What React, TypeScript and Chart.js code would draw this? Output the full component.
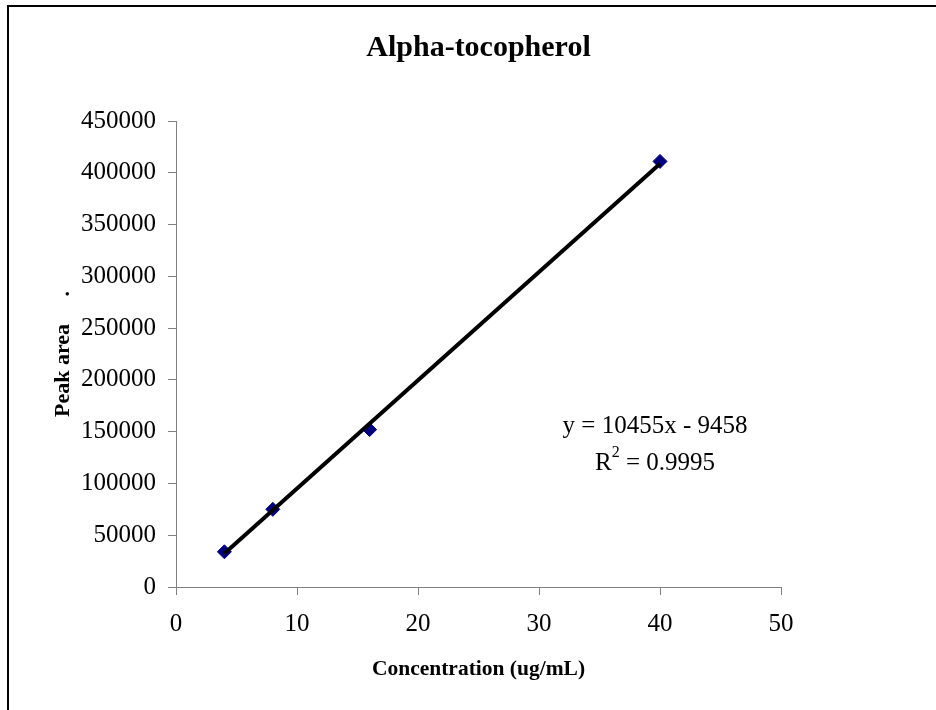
import React, { useEffect, useRef } from "react";
import { Chart, registerables } from "chart.js";

Chart.register(...registerables);

const concentrations = [4, 8, 16, 40];
const peakAreas = [34000, 75000, 152000, 411000];
const slope = 10455;
const intercept = -9458;
const rSquared = "0.9995";
const trendX = [4, 40];
const chartTitle = "Alpha-tocopherol";
const xTitle = "Concentration (ug/mL)";
const yTitle = "Peak area     .";

const FONT = "'Liberation Serif', 'Times New Roman', serif";

const decorPlugin = {
  id: "decor",
  afterDraw(chart: any) {
    const ctx = chart.ctx;
    const ca = chart.chartArea;
    ctx.save();
    ctx.strokeStyle = "#000";
    ctx.lineWidth = 2;
    ctx.strokeRect(8, 6, 2000, 2000);
    ctx.fillStyle = "#000";
    ctx.textAlign = "center";
    ctx.textBaseline = "middle";
    ctx.font = `bold 30px ${FONT}`;
    ctx.fillText(chartTitle, (ca.left + ca.right) / 2, 48);
    ctx.font = `bold 21.5px ${FONT}`;
    ctx.fillText(xTitle, (ca.left + ca.right) / 2, 669);
    ctx.save();
    ctx.translate(63, (ca.top + ca.bottom) / 2);
    ctx.rotate(-Math.PI / 2);
    ctx.font = `bold 22px ${FONT}`;
    ctx.fillText(yTitle, 0, 0);
    ctx.restore();
    const cx = ca.left + 479;
    ctx.font = `25px ${FONT}`;
    const sign = intercept < 0 ? " - " : " + ";
    ctx.fillText(`y = ${slope}x${sign}${Math.abs(intercept)}`, cx, 426);
    const p1 = "R";
    const p3 = ` = ${rSquared}`;
    const w1 = ctx.measureText(p1).width;
    const w3 = ctx.measureText(p3).width;
    ctx.font = `16px ${FONT}`;
    const w2 = ctx.measureText("2").width;
    const total = w1 + w2 + w3;
    const x0 = cx - total / 2;
    ctx.textAlign = "left";
    ctx.font = `25px ${FONT}`;
    ctx.fillText(p1, x0, 463);
    ctx.font = `16px ${FONT}`;
    ctx.fillText("2", x0 + w1, 453);
    ctx.font = `25px ${FONT}`;
    ctx.fillText(p3, x0 + w1 + w2, 463);
    ctx.restore();
  },
};

export default function App() {
  const ref = useRef<HTMLCanvasElement>(null);
  useEffect(() => {
    if (!ref.current) return;
    const scatter = concentrations.map((x, i) => ({ x, y: peakAreas[i] }));
    const trend = trendX.map((x) => ({ x, y: slope * x + intercept }));
    const chart = new Chart(ref.current, {
      type: "scatter",
      data: {
        datasets: [
          {
            label: "trend",
            data: trend,
            showLine: true,
            borderColor: "#000",
            borderWidth: 4,
            pointRadius: 0,
            order: 0,
          } as any,
          {
            label: "data",
            data: scatter,
            pointStyle: "rectRot",
            pointRadius: 7,
            backgroundColor: "#000080",
            borderColor: "#000080",
            borderWidth: 1,
            order: 1,
          },
        ],
      },
      options: {
        responsive: false,
        animation: false,
        layout: { padding: { left: 0, top: 121, right: 155, bottom: 0 } },
        plugins: {
          legend: { display: false },
          title: { display: false },
          tooltip: { enabled: false },
        },
        scales: {
          x: {
            type: "linear",
            min: 0,
            max: 50,
            ticks: {
              stepSize: 10,
              color: "#000",
              font: { family: FONT, size: 25 },
              padding: 14,
              maxRotation: 0,
            },
            grid: {
              display: true,
              drawOnChartArea: false,
              drawTicks: true,
              tickLength: 8,
              color: "#808080",
            },
            border: { display: true, color: "#808080", width: 1 },
            afterFit: (s: any) => {
              s.height = 123;
            },
          },
          y: {
            type: "linear",
            min: 0,
            max: 450000,
            ticks: {
              stepSize: 50000,
              color: "#000",
              font: { family: FONT, size: 25 },
              padding: 12,
              callback: (v: any) => String(v),
            },
            grid: {
              display: true,
              drawOnChartArea: false,
              drawTicks: true,
              tickLength: 8,
              color: "#808080",
            },
            border: { display: true, color: "#808080", width: 1 },
            afterFit: (s: any) => {
              s.width = 176;
            },
          },
        },
      },
      plugins: [decorPlugin],
    });
    return () => chart.destroy();
  }, []);
  return (
    <div style={{ position: "fixed", left: 0, top: 0, width: 936, height: 710, background: "#fff" }}>
      <canvas ref={ref} width={936} height={710} style={{ display: "block" }} />
    </div>
  );
}
